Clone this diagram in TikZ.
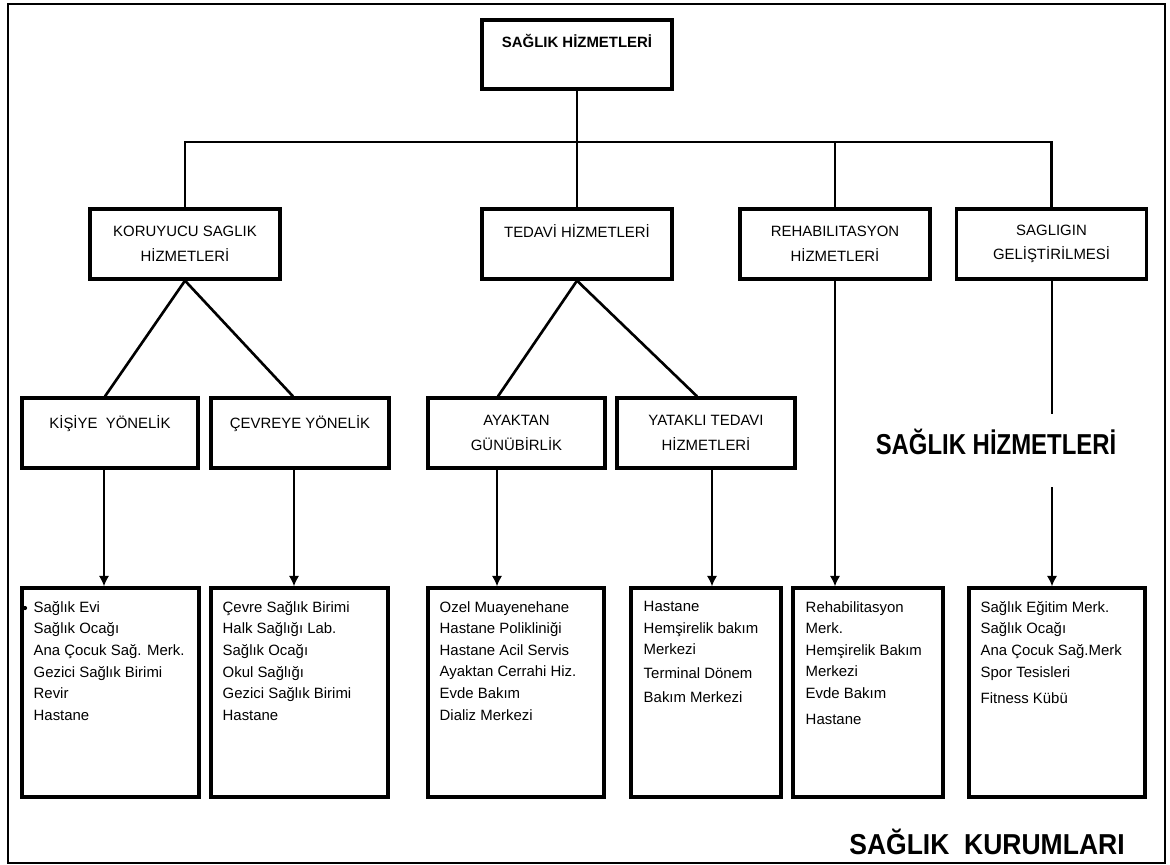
\documentclass[tikz,border=0pt]{standalone}
\usepackage{fontspec}
\setmainfont{Liberation Sans}
\usepackage{graphicx}
\usetikzlibrary{positioning}
\usetikzlibrary{arrows.meta}
\newdimen\pix
\pix=0.02cm

\begin{document}
\begin{tikzpicture}[x=0.02cm,y=-0.02cm,
  kutu/.style={draw,line width=1.9pt,align=center,inner sep=2pt,font=\fontsize{8.5}{14}\selectfont},
  orta/.style={kutu,minimum width=190\pix,minimum height=70\pix},
  alt/.style={kutu,minimum height=70\pix},
  tekli/.style={text height=6.5pt,text depth=#1},
  liste/.style={draw,line width=1.9pt,minimum height=209\pix},
  yazi/.style={anchor=north west,inner sep=0pt,align=left,font=\fontsize{8.5}{12.3}\selectfont},
  baslik/.style={font=\bfseries\fontsize{16.4}{18}\selectfont},
  hat/.style={line width=1.5pt,line join=miter},
  ok/.style={line width=1.5pt,-{Latex[length=6pt,width=6pt]}}]
\useasboundingbox (0,0) rectangle (1170,865);
\draw[line width=1.3pt] (8,4) rectangle (1165,863);

\node[kutu,minimum width=190\pix,minimum height=69\pix,tekli=14.6pt,font=\bfseries\fontsize{8.5}{14}\selectfont] (saglik) at (577,54.5) {SAĞLIK HİZMETLERİ};

\node[orta] (koruyucu) at (185,244) {KORUYUCU SAGLIK\\HİZMETLERİ};
\node[orta,tekli=14pt] (tedavi) at (577,244) {TEDAVİ HİZMETLERİ};
\node[orta] (rehab) at (835,244) {REHABILITASYON\\HİZMETLERİ};
\node[orta] (gelistirme) at (1051.5,244) {SAGLIGIN\\GELİŞTİRİLMESİ};

\node[alt,minimum width=176\pix,tekli=11.7pt] (kisi) at (110,433) {KİŞİYE\ \ YÖNELİK};
\node[alt,minimum width=178\pix,tekli=11.7pt] (cevre) at (300,433) {ÇEVREYE YÖNELİK};
\node[alt,minimum width=177\pix] (ayaktan) at (516.5,433) {AYAKTAN\\GÜNÜBİRLİK};
\node[alt,minimum width=178\pix] (yatakli) at (706,433) {YATAKLI TEDAVI\\HİZMETLERİ};

\node[liste,minimum width=177\pix] (kisiL) at (110.5,692.5) {};
\node[liste,minimum width=177\pix] (cevreL) at (299.5,692.5) {};
\node[liste,minimum width=176\pix] (ayaktanL) at (516,692.5) {};
\node[liste,minimum width=150\pix] (yatakliL) at (706,692.5) {};
\node[liste,minimum width=150\pix] (rehabL) at (868,692.5) {};
\node[liste,minimum width=176\pix] (gelistirmeL) at (1057,692.5) {};

\node[yazi,below right=8.3pt and 7.4pt of kisiL.north west] (kisiT) {Sağlık Evi\\Sağlık Ocağı\\Ana Çocuk Sağ. Merk.\\Gezici Sağlık Birimi\\Revir\\Hastane};
\fill (25,608) circle (1.2pt);
\node[yazi,below right=8.3pt and 7.4pt of cevreL.north west] (cevreT) {Çevre Sağlık Birimi\\Halk Sağlığı Lab.\\Sağlık Ocağı\\Okul Sağlığı\\Gezici Sağlık Birimi\\Hastane};
\node[yazi,below right=8.3pt and 7.4pt of ayaktanL.north west] (ayaktanT) {Ozel Muayenehane\\Hastane Polikliniği\\Hastane Acil Servis\\Ayaktan Cerrahi Hiz.\\Evde Bakım\\Dializ Merkezi};
\node[yazi,below right=8.3pt and 8pt of yatakliL.north west] (yatakliT) {Hastane\\Hemşirelik bakım\\Merkezi\\[1pt]Terminal Dönem\\[1.5pt]Bakım Merkezi};
\node[yazi,below right=8.3pt and 8pt of rehabL.north west] (rehabT) {Rehabilitasyon\\Merk.\\Hemşirelik Bakım\\Merkezi\\Evde Bakım\\[2.5pt]Hastane};
\node[yazi,below right=8.3pt and 7.4pt of gelistirmeL.north west] (gelistirmeT) {Sağlık Eğitim Merk.\\Sağlık Ocağı\\Ana Çocuk Sağ.Merk\\Spor Tesisleri\\[2.5pt]Fitness Kübü};

\node[baslik] (hizmetler) at (996,442) {\scalebox{0.83}[1]{SAĞLIK HİZMETLERİ}};
\node[baslik] (kurumlar) at (987,842) {\scalebox{0.92}[1]{SAĞLIK\ \ KURUMLARI}};

% ust baglantilar
\coordinate (bus) at (577,142);
\draw[hat] (saglik) -- (bus);
\draw[hat] (koruyucu.north) |- (bus) -| (gelistirme.north);
\draw[hat] (bus) -- (tedavi);
\draw[hat] (rehab.north) -- (rehab.north |- bus);

\draw[hat] (koruyucu.south) -- ([xshift=-5\pix]kisi.north);
\draw[hat] (koruyucu.south) -- ([xshift=-7\pix]cevre.north);
\draw[hat] (tedavi.south) -- ([xshift=-18.5\pix]ayaktan.north);
\draw[hat] (tedavi.south) -- ([xshift=-9\pix]yatakli.north);

% oklar
\coordinate (k1) at (104,0);
\coordinate (k2) at (294,0);
\coordinate (k3) at (497,0);
\coordinate (k4) at (712,0);
\coordinate (g1) at (1052,414);
\coordinate (g2) at (1052,487);
\draw[ok] (kisi.south -| k1) -- (kisiL.north -| k1);
\draw[ok] (cevre.south -| k2) -- (cevreL.north -| k2);
\draw[ok] (ayaktan.south -| k3) -- (ayaktanL.north -| k3);
\draw[ok] (yatakli.south -| k4) -- (yatakliL.north -| k4);
\draw[ok] (rehab.south) -- (rehab.south |- rehabL.north);
\draw[hat] (gelistirme.south -| g1) -- (g1);
\draw[ok] (g2) -- (gelistirmeL.north -| g2);

\end{tikzpicture}
\end{document}
